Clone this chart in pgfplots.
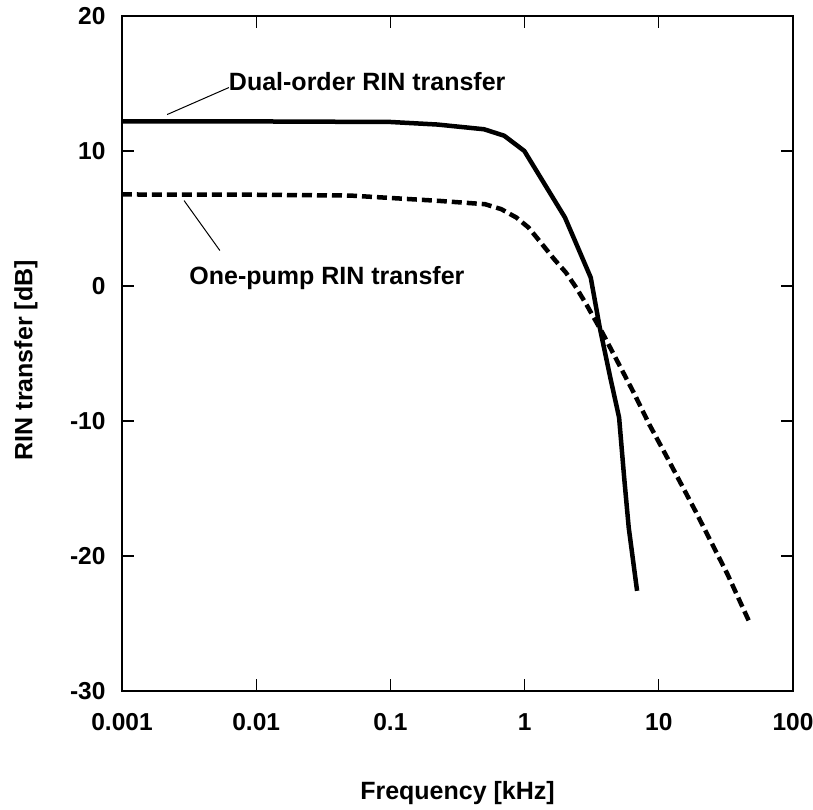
\documentclass[border=0pt]{standalone}
\usepackage{fontspec}
\setmainfont{Liberation Sans}
\usepackage{pgfplots}
\pgfplotsset{compat=1.18}
\begin{document}
\begin{tikzpicture}
\begin{axis}[
  name=ax,
  scale only axis,
  width=671bp, height=675bp,
  xmode=log,
  xmin=0.001, xmax=100,
  ymin=-30, ymax=20,
  xtick={0.001,0.01,0.1,1,10,100},
  xticklabels={0.001,0.01,0.1,1,10,100},
  ytick={-30,-20,-10,0,10,20},
  yticklabels={-30,-20,-10,0,10,20},
  xminorticks=false, yminorticks=false,
  tick align=inside,
  major tick length=12bp,
  tick style={line width=1.2bp, black},
  axis line style={line width=1.5bp},
  /pgf/number format/assume math mode=true,
  ticklabel style={font=\fontsize{24.5bp}{29bp}\selectfont\bfseries},
  xticklabel style={yshift=-19bp},
  yticklabel style={xshift=-13bp},
  xlabel={Frequency [kHz]},
  ylabel={RIN transfer [dB]},
  every axis x label/.style={at={(axis description cs:0.5,0)},yshift=-102bp,anchor=center,font=\fontsize{25bp}{30bp}\selectfont\bfseries},
  every axis y label/.style={at={(axis description cs:0,0.49)},xshift=-96bp,anchor=center,rotate=90,font=\fontsize{25bp}{30bp}\selectfont\bfseries},
  clip=false,
]
\addplot[black, line width=4.5bp, line join=round] coordinates {
(0.001,12.19) (0.01,12.19) (0.1,12.15) (0.224,11.96) (0.499,11.61) (0.705,11.13)
(0.996,10.0) (2.00,5.07) (3.11,0.63) (3.63,-3.07) (4.35,-6.78) (5.06,-9.74)
(5.52,-14.19) (5.97,-17.9) (6.89,-22.58)
};
\addplot[black, line width=4.5bp, dash pattern=on 10bp off 5bp] coordinates {
(0.001,6.78) (0.01,6.76) (0.05,6.7) (0.227,6.31) (0.507,6.06) (0.671,5.69)
(0.869,5.07) (1.07,4.33) (1.32,3.22) (1.66,1.99) (2.03,1.0) (2.42,-0.11)
(2.88,-1.35) (3.85,-3.57) (5.01,-5.74) (6.59,-8.01) (8.48,-10.24)
(11.2,-12.46) (18.7,-16.65) (32.5,-21.35) (47.5,-24.93)
};
\draw[line width=1bp] (axis cs:0.00217,12.7) -- (axis cs:0.00626,14.7);
\node[anchor=base west, inner sep=0pt, font=\fontsize{25bp}{30bp}\selectfont\bfseries] at (axis cs:0.00625,14.48) {Dual-order RIN transfer};
\draw[line width=1bp] (axis cs:0.00290,6.33) -- (axis cs:0.00536,2.63);
\node[anchor=base west, inner sep=0pt, font=\fontsize{25bp}{30bp}\selectfont\bfseries] at (axis cs:0.00317,0.11) {One-pump RIN transfer};
\end{axis}
\pgfresetboundingbox
\path (ax.south west) ++(-122bp,-119bp) rectangle ++(813bp,810bp);
\end{tikzpicture}
\end{document}
